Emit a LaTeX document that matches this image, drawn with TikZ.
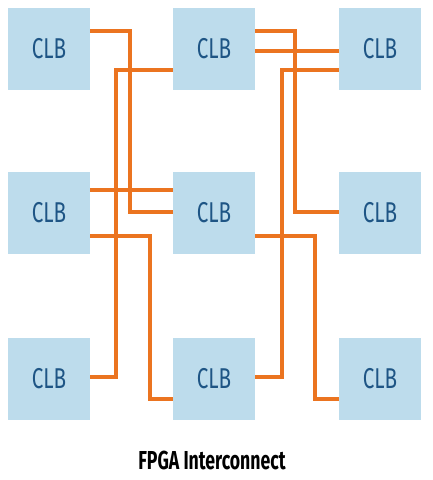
\documentclass[tikz,border=0pt]{standalone}
\usepackage{fontspec}
\setmainfont{Fira Sans}[FakeStretch=0.72]
\newfontfamily\titlefont{Fira Sans}[FakeStretch=0.68]
\usepackage{tikz}
\definecolor{clbfill}{HTML}{BDDCEC}
\definecolor{clbtext}{HTML}{1E5585}
\definecolor{wireorange}{HTML}{EB7420}
\tikzset{
  clb/.style={fill=clbfill, text=clbtext, minimum size=61.5pt, inner sep=0pt, font=\fontsize{21.5}{22}\selectfont},
  wire/.style={draw=wireorange, line width=2.5pt}
}

\begin{document}
\begin{tikzpicture}[x=0.75pt,y=-0.75pt]
\useasboundingbox (0,0) rectangle (433,480);
% the nine logic blocks
\foreach \r/\yy in {0/49,1/213,2/379}
  \foreach \c/\xx in {0/49,1/214,2/380}
    \node[clb] (c\r\c) at (\xx,\yy) {CLB};
% wires between column 0 and column 1
\draw[wire] (c00.east |- 0,31) -| (130,212) -- (c11.west |- 0,212);
\draw[wire] (c20.east |- 0,377) -| (116,70) -- (c01.west |- 0,70);
\draw[wire] (c10.east |- 0,190) -- (c11.west |- 0,190);
\draw[wire] (c10.east |- 0,236) -| (150,399) -- (c21.west |- 0,399);
% wires between column 1 and column 2
\draw[wire] (c01.east |- 0,31) -| (295,212) -- (c12.west |- 0,212);
\draw[wire] (c01.east |- 0,51) -- (c02.west |- 0,51);
\draw[wire] (c21.east |- 0,377) -| (282,70) -- (c02.west |- 0,70);
\draw[wire] (c11.east |- 0,236) -| (315,399) -- (c22.west |- 0,399);
\node[font=\titlefont\bfseries\fontsize{19.5}{20}\selectfont] (title) at (212,460) {FPGA Interconnect};
\end{tikzpicture}
\end{document}
